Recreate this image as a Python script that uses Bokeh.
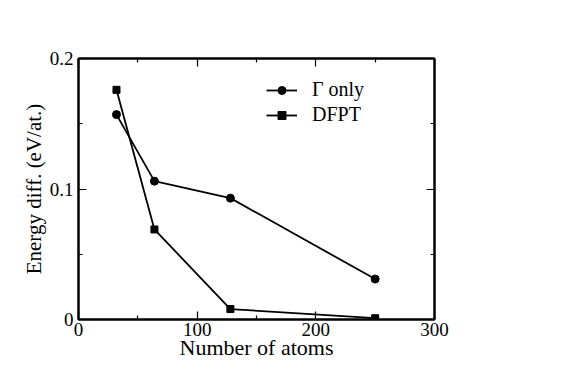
from bokeh.plotting import figure
from bokeh.models import (Range1d, LinearAxis, FixedTicker, Legend, LegendItem,
                          CustomJSTickFormatter)
from bokeh.embed import file_html
from bokeh.resources import INLINE

# ---- data ----
atoms = [32, 64, 128, 250]
gamma_only = [0.157, 0.106, 0.093, 0.031]
dfpt = [0.176, 0.069, 0.008, 0.001]

x_ticks = [0, 100, 200, 300]
x_minor = [50, 150, 250]
y_ticks = [0, 0.1, 0.2]
y_minor = [0.05, 0.15]

series_labels = ["Γ only", "DFPT"]
x_label = "Number of atoms"
y_label = "Energy diff. (eV/at.)"

FONT = "Liberation Serif"

p = figure(width=553, height=369, output_backend="svg", toolbar_location=None,
           x_range=Range1d(0, 300), y_range=Range1d(0, 0.2),
           min_border_left=78, min_border_right=119, min_border_top=58,
           min_border_bottom=50, x_axis_location=None, y_axis_location=None)
p.xgrid.visible = False
p.ygrid.visible = False
p.outline_line_color = "black"
p.outline_line_width = 2
p.background_fill_color = "white"
p.border_fill_color = "white"

fmt = CustomJSTickFormatter(code="return String(tick)")
blank = CustomJSTickFormatter(code="return ''")


def style_axis(ax, show_labels):
    ax.axis_line_color = "black"
    ax.axis_line_width = 2
    ax.major_tick_in = 8
    ax.major_tick_out = 0
    ax.minor_tick_in = 4
    ax.minor_tick_out = 0
    ax.major_tick_line_width = 1.2
    ax.minor_tick_line_width = 1.2
    ax.major_tick_line_color = "black"
    ax.minor_tick_line_color = "black"
    ax.major_label_text_font = FONT
    ax.major_label_text_font_size = "19px"
    ax.major_label_text_color = "black"
    ax.axis_label_text_font = FONT
    ax.axis_label_text_font_size = "21px"
    ax.axis_label_text_font_style = "normal"
    ax.axis_label_text_color = "black"
    ax.formatter = fmt if show_labels else blank


xb = LinearAxis(ticker=FixedTicker(ticks=x_ticks, minor_ticks=x_minor), axis_label=x_label)
style_axis(xb, True)
xb.axis_label_text_font_size = "22px"
xb.major_label_standoff = 3
xb.axis_label_standoff = -4
p.add_layout(xb, "below")

yl = LinearAxis(ticker=FixedTicker(ticks=y_ticks, minor_ticks=y_minor), axis_label=y_label)
style_axis(yl, True)
yl.major_label_standoff = 5
yl.axis_label_standoff = 1
p.add_layout(yl, "left")

xt = LinearAxis(ticker=FixedTicker(ticks=x_ticks, minor_ticks=x_minor))
style_axis(xt, False)
p.add_layout(xt, "above")

yr = LinearAxis(ticker=FixedTicker(ticks=y_ticks, minor_ticks=y_minor))
style_axis(yr, False)
p.add_layout(yr, "right")

l1 = p.line(atoms, gamma_only, line_color="black", line_width=1.8)
s1 = p.scatter(atoms, gamma_only, marker="circle", size=8, fill_color="black", line_color="black")
l2 = p.line(atoms, dfpt, line_color="black", line_width=1.8)
s2 = p.scatter(atoms, dfpt, marker="square", size=7, fill_color="black", line_color="black")

legend = Legend(items=[LegendItem(label=series_labels[0], renderers=[l1, s1]),
                       LegendItem(label=series_labels[1], renderers=[l2, s2])],
                location=(188, 193), orientation="vertical",
                padding=0, margin=0, spacing=2,
                glyph_width=31, glyph_height=20, label_height=20,
                label_standoff=15,
                label_text_font=FONT, label_text_font_size="20px",
                label_text_color="black",
                border_line_color=None, background_fill_alpha=0)
p.add_layout(legend, "center")

open("out.html", "w").write(file_html(p, INLINE))
